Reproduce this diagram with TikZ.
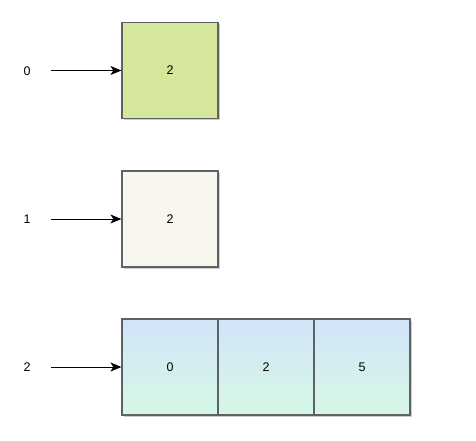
\documentclass[tikz,border=0pt]{standalone}
\usepackage{fontspec}
\setmainfont{Liberation Sans}
\usetikzlibrary{arrows.meta,shadows}
\definecolor{boxgreen}{HTML}{D4E79B}
\definecolor{boxcream}{HTML}{F9F7ED}
\definecolor{gradtop}{HTML}{D2E4F9}
\definecolor{gradbot}{HTML}{D6F8E5}
\definecolor{boxline}{HTML}{5E6266}
\tikzset{
  cell/.style={draw=boxline, line width=1.2pt, minimum width=96pt, minimum height=96pt,
    inner sep=0pt, font=\fontsize{12.5pt}{14pt}\selectfont,
    drop shadow={shadow xshift=2pt, shadow yshift=-2pt, opacity=0.2, fill=black}},
  idx/.style={font=\fontsize{12.5pt}{14pt}\selectfont, inner sep=0pt},
  ptr/.style={-{Stealth[length=11pt,width=9pt,inset=3pt]}, line width=1pt, black},
}
\begin{document}
\begin{tikzpicture}[x=1pt,y=-1pt]
\useasboundingbox (0,0) rectangle (476,441);
% row 0
\node[idx] (l0) at (27,71) {0};
\coordinate (s0) at (51,70.5);
\node[cell, fill=boxgreen] (b0) at (170,70.5) {2};
\draw[ptr] (s0) -- (b0.west);
% row 1
\node[idx] (l1) at (27,219) {1};
\coordinate (s1) at (51,219);
\node[cell, fill=boxcream] (b1) at (170,219) {2};
\draw[ptr] (s1) -- (b1.west);
% row 2
\node[idx] (l2) at (27,367) {2};
\coordinate (s2) at (51,367);
\node[cell, top color=gradtop, bottom color=gradbot] (c0) at (170,367) {0};
\node[cell, top color=gradtop, bottom color=gradbot] (c1) at (266,367) {2};
\node[cell, top color=gradtop, bottom color=gradbot] (c2) at (362,367) {5};
\draw[ptr] (s2) -- (c0.west);
\end{tikzpicture}
\end{document}
